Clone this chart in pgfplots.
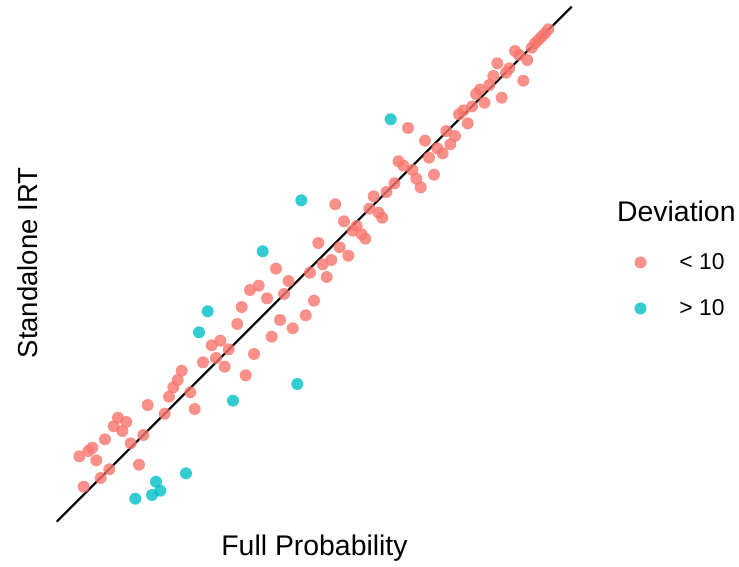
\documentclass[border=0pt]{standalone}
\usepackage{pgfplots}
\pgfplotsset{compat=1.18}
\usepackage{fontspec}
\setmainfont{Liberation Sans}
\definecolor{ggred}{HTML}{F8766D}
\definecolor{ggteal}{HTML}{00BFC4}
\pgfplotstableread{
x y
79.3 110.7
83.7 80.3
88.3 116
92.3 119.3
96.3 106.7
100.7 89
105 127.7
109.3 97.7
113.7 140.7
118 149.3
122.3 136
126.3 145
130.7 123.7
139 102.3
143.3 132
147.7 162
164.7 153.3
169 170.3
173.3 179.7
177.7 187
181.7 196.3
190.3 174.7
194.7 158
203 204.7
211.7 221.7
216 209
220.3 226.3
224.7 200.3
228.7 217.7
237.3 243
241.7 260
245.7 191.7
250 277
254 213
258.7 281.3
267 268.7
271.7 230.3
276 298.3
280 247
284 273
288.5 286
292.7 238.7
305.7 251.7
310 294.3
314 266.3
318.3 324
322.7 302.7
326.7 290
331.3 307
335.3 362.7
339.7 319.7
344 345.7
348.3 311.3
352.7 336.3
356.7 341
361.7 332.7
365.3 328.3
369.3 358.3
373.7 370.7
378.7 354.3
382.3 349.3
386.5 375
394.5 383.7
398.5 405.7
403.3 401.3
408 439
412.3 397
416.3 388.3
420.7 379.7
425 426.3
429 409.3
434 392.3
437.3 418.7
442.7 413.7
446.3 436
450.3 422.7
455 431
459 452.7
463.3 456.5
467.7 443.7
472 460.5
476 473
480 477.5
484.5 464.3
489.3 482
493.3 491
497.3 503.7
501.7 469.3
506 494.3
509.3 498.7
515 516
519 512
523.3 486.3
527.3 507
531.7 519.3
535 523.7
538.3 527
541.7 530.3
545 533.7
548.3 537.7
}\lowdata
\pgfplotstableread{
x y
135.3 68.3
152 72
156 85.3
160.3 76.3
186 93.7
199 234.7
207.7 255.7
233 166.3
262.7 315.7
297.3 183
301.3 366.7
390.7 447.7
}\highdata
\begin{document}
\begin{tikzpicture}
\begin{axis}[
  width=739bp, height=567bp, scale only axis,
  xmin=0, xmax=739, ymin=0, ymax=567,
  hide axis, clip=false,
  legend style={at={(axis cs:631.3,319.5)}, anchor=north west, draw=none, fill=none,
    font=\fontsize{23}{26}\selectfont, row sep=20.5bp, column sep=29bp,
    nodes={inner sep=4bp}},
  legend cell align=left,
]
\path (axis cs:0,0) rectangle (axis cs:739,567);
\addplot[only marks, mark=*, mark size=6bp, color=ggred, mark options={draw opacity=0, fill=ggred, fill opacity=0.8}] table {\lowdata};
\addlegendentry{< 10}
\addplot[only marks, mark=*, mark size=6bp, color=ggteal, mark options={draw opacity=0, fill=ggteal, fill opacity=0.8}] table {\highdata};
\addlegendentry{> 10}
\addplot[black, line width=2.2bp, forget plot] coordinates {(56.7,45.3) (571.7,560.3)};
\node[anchor=base, font=\fontsize{28.5}{32}\selectfont] at (axis cs:314.5,11.3) {Full Probability};
\node[anchor=base, rotate=90, font=\fontsize{27.6}{31}\selectfont] at (axis cs:37.3,304) {Standalone IRT};
\node[anchor=base west, inner sep=0pt, font=\fontsize{28.5}{32}\selectfont] at (axis cs:617,345.3) {Deviation};
\end{axis}
\end{tikzpicture}
\end{document}
